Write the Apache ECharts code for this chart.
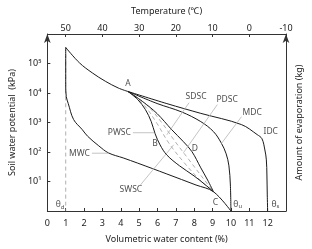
<!DOCTYPE html>
<html>
<head>
<meta charset="utf-8">
<script src="https://cdn.jsdelivr.net/npm/echarts@6/dist/echarts.min.js"></script>
<style>
html, body { margin: 0; padding: 0; background: #fff; }
#chart { width: 312px; height: 249px; }
</style>
</head>
<body>
<div id="chart"></div>
<script>
// water content (%) vs soil water potential (kPa)
const upperCurve = [[1.0, 3.5e5], [1.75, 1.05e5], [2.45, 4.8e4], [3.16, 2.5e4], [3.86, 1.48e4], [4.4, 1.12e4]];
const mwc = [[1.0, 3.5e5], [1.0, 1.95e4], [1.03, 7600], [1.14, 4370], [1.43, 1260], [1.9, 575], [2.2, 339],
  [2.8, 162], [3.33, 93], [4.13, 63], [4.92, 42], [6.51, 18], [8.1, 7.6], [9.05, 4.5], [10.0, 1]];
const idc = [[4.4, 1.12e4], [6.51, 4370], [8.36, 2040], [10.57, 851], [11.43, 389], [11.69, 282], [11.85, 117],
  [11.93, 54], [11.96, 16.6], [11.98, 3.5], [12.0, 1]];
const mdc = [[4.4, 1.12e4], [5.98, 4400], [7.3, 2300], [8.36, 1070], [9.05, 490], [9.47, 204], [9.74, 87],
  [9.89, 34], [9.97, 7.6], [10.0, 1]];
const curveD = [[4.4, 1.12e4], [5.19, 5130], [5.98, 2000], [6.77, 575], [7.41, 224], [7.88, 102], [8.36, 29],
  [8.73, 11.2], [9.05, 4.5]];
const curveB = [[4.4, 1.12e4], [4.92, 6030], [5.34, 2750], [5.66, 1070], [5.87, 417], [6.14, 174], [6.51, 79],
  [7.2, 34], [7.99, 15.5], [8.62, 7.6], [9.05, 4.5]];
const dashed1 = [[4.4, 1.12e4], [5.29, 3720], [5.98, 912], [6.61, 204], [7.46, 43], [8.36, 10.5], [9.05, 4.5]];
const dashed2 = [[4.4, 1.12e4], [5.45, 3720], [6.24, 977], [6.93, 240], [7.72, 54], [8.47, 13.2], [9.05, 4.5]];
const thetaD = [[1.0, 3.5e5], [1.0, 1]];

// leader lines from the curve names
const leaders = [
  [[4.66, 450], [5.82, 450]],      // PWSC
  [[2.43, 91], [3.33, 91]],        // MWC
  [[5.03, 7.1], [6.88, 175]],      // SWSC
  [[7.72, 4700], [6.51, 385]],     // SDSC
  [[9.26, 4050], [7.41, 94]],      // PDSC
  [[10.58, 1580], [9.47, 190]]     // MDC
];

// text annotations [x, y, text]
const notes = [
  [4.39, 2.1e4, 'A'], [5.87, 190, 'B'], [9.15, 1.9, 'C'], [8.04, 129, 'D'],
  [3.92, 450, 'PWSC'], [1.75, 87, 'MWC'], [4.55, 5.2, 'SWSC'], [8.1, 7600, 'SDSC'],
  [9.79, 6000, 'PDSC'], [11.16, 2150, 'MDC'], [12.17, 490, 'IDC'],
  [0.69, 1.6, '{t|θ}{s|d}'], [10.37, 1.7, '{t|θ}{s|u}'], [12.43, 1.7, '{t|θ}{s|s}']
];

const xTicks = [0, 13];
const tempRange = [-10, 55];
const supDigits = ['⁰', '¹', '²', '³', '⁴', '⁵', '⁶'];

const chart = echarts.init(document.getElementById('chart'));
const font = 'Noto Sans';
const txt = '#222';

const solid = (name, data) => ({
  name, type: 'line', data, showSymbol: false, smooth: 0.35, silent: true,
  lineStyle: { color: '#1a1a1a', width: 1 }
});
const dash = (name, data) => ({
  name, type: 'line', data, showSymbol: false, smooth: 0.35, silent: true,
  lineStyle: { color: '#9a9a9a', width: 0.8, type: [4, 3] }
});

const series = [
  dash('θd', thetaD),
  dash('dash1', dashed1),
  dash('dash2', dashed2),
  solid('upper', upperCurve),
  solid('MWC', mwc),
  solid('IDC', idc),
  solid('MDC', mdc),
  solid('D', curveD),
  solid('B', curveB)
];
leaders.forEach((seg, i) => series.push({
  name: 'leader' + i, type: 'line', data: seg, showSymbol: false, silent: true,
  lineStyle: { color: '#b5b5b5', width: 0.8 }
}));
series.push({
  name: 'notes', type: 'scatter', symbolSize: 0, silent: true,
  data: notes.map(n => ({ value: [n[0], n[1]], name: n[2] })),
  label: {
    show: true, position: 'inside', formatter: p => p.name,
    color: txt, fontFamily: font, fontSize: 8.5,
    rich: {
      t: { fontFamily: font, fontSize: 8.5, color: txt },
      s: { fontFamily: font, fontSize: 6, color: txt, padding: [4, 0, 0, 0] }
    }
  }
});

const line = { onZero: false, lineStyle: { color: '#333', width: 1 } };

chart.setOption({
  animation: false,
  backgroundColor: '#fff',
  grid: { left: 47, right: 19, top: 34, bottom: 38 },
  xAxis: [
    {
      type: 'value', min: xTicks[0], max: xTicks[1], interval: 1, position: 'bottom',
      name: 'Volumetric water content (%)', nameLocation: 'middle', nameGap: 24,
      nameTextStyle: { fontFamily: font, fontSize: 9, color: txt },
      axisLine: line,
      axisTick: { inside: true, length: 3, lineStyle: { color: '#333' } },
      axisLabel: { fontFamily: font, fontSize: 9, color: txt, margin: 8,
        formatter: v => (v === 13 ? '' : v) },
      splitLine: { show: false }
    },
    {
      type: 'value', inverse: true, min: tempRange[0], max: tempRange[1], interval: 10, position: 'top',
      name: 'Temperature (℃)', nameLocation: 'middle', nameGap: 18,
      nameTextStyle: { fontFamily: font, fontSize: 9, color: txt },
      axisLine: line,
      axisTick: { inside: true, length: 3, lineStyle: { color: '#333' } },
      axisLabel: { fontFamily: font, fontSize: 9, color: txt, margin: 1,
        formatter: v => (v === 55 ? '' : v) },
      splitLine: { show: false }
    }
  ],
  yAxis: [
    {
      type: 'log', logBase: 10, min: 1, max: 1e6, position: 'left',
      name: 'Soil water potential  (kPa)', nameLocation: 'middle', nameGap: 28, nameRotate: 90,
      nameTextStyle: { fontFamily: font, fontSize: 9, color: txt },
      axisLine: Object.assign({ symbol: ['none', 'arrow'], symbolSize: [5, 9] }, line),
      axisTick: { inside: true, length: 3, lineStyle: { color: '#333' } },
      axisLabel: { fontFamily: font, fontSize: 9, color: txt, margin: 6,
        formatter: v => {
          const e = Math.round(Math.log10(v));
          return (e < 1 || e > 5) ? '' : '10' + supDigits[e];
        } },
      splitLine: { show: false }
    },
    {
      type: 'value', min: 0, max: 1, position: 'right',
      name: 'Amount of evaporation (kg)', nameLocation: 'middle', nameGap: 9, nameRotate: 90,
      nameTextStyle: { fontFamily: font, fontSize: 9, color: txt },
      axisLine: Object.assign({ show: true, symbol: ['none', 'arrow'], symbolSize: [5, 9] }, line),
      axisTick: { show: false },
      axisLabel: { show: false },
      splitLine: { show: false }
    }
  ],
  series
});
</script>
</body>
</html>
